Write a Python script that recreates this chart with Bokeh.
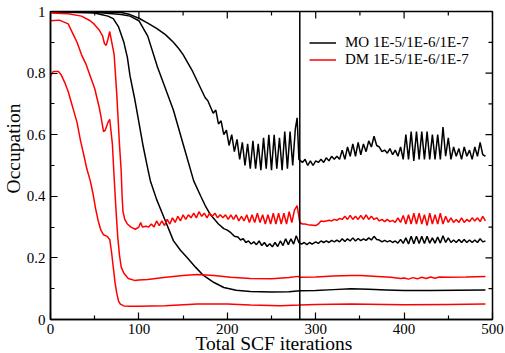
import math
from bokeh.plotting import figure
from bokeh.models import FixedTicker, Span, Legend, LegendItem, Range1d, Title
from bokeh.embed import file_html
from bokeh.resources import INLINE

# ---------------- data ----------------
x_start, x_end = 0, 500
y_start, y_end = 0, 1.0
x_ticks = [0, 100, 200, 300, 400, 500]
x_minor_ticks = [50, 150, 250, 350, 450]
y_ticks = [0, 0.2, 0.4, 0.6, 0.8, 1.0]
y_tick_labels = ["0", "0.2", "0.4", "0.6", "0.8", "1"]
y_minor_ticks = [0.1, 0.3, 0.5, 0.7, 0.9]
restart_iteration = 282

x_title = "Total SCF iterations"
y_title = "Occupation"
series_labels = ["MO 1E-5/1E-6/1E-7", "DM 1E-5/1E-6/1E-7"]

# MO, tightest threshold (top black curve, ends ~0.53)
mo_top = [(0, 1.0), (40, 1.0), (80, 0.997), (90, 0.99), (100, 0.978), (110, 0.962), (120, 0.945),
          (130, 0.925), (139, 0.90), (145, 0.88), (150, 0.86), (155, 0.835), (160, 0.81), (165, 0.78),
          (170, 0.75), (175, 0.72), (178, 0.71), (181, 0.69), (184, 0.67), (187, 0.68), (190, 0.635),
          (193, 0.645), (196, 0.60), (199, 0.615), (202, 0.565), (205, 0.60), (208, 0.545), (211, 0.585),
          (214, 0.52), (217, 0.575), (220, 0.50), (223, 0.57), (226, 0.49), (229, 0.58), (232, 0.49),
          (235, 0.57), (238, 0.485), (241, 0.59), (244, 0.49), (247, 0.60), (250, 0.485), (253, 0.60),
          (256, 0.49), (259, 0.59), (262, 0.485), (265, 0.61), (268, 0.49), (271, 0.61), (274, 0.50),
          (277, 0.62), (279, 0.655), (281, 0.52), (283, 0.515), (285, 0.51), (288, 0.52), (291, 0.50),
          (294, 0.515), (297, 0.50), (300, 0.515), (303, 0.51), (306, 0.52), (309, 0.51), (312, 0.525),
          (315, 0.515), (318, 0.53), (321, 0.52), (324, 0.53), (327, 0.52), (330, 0.55), (333, 0.52),
          (336, 0.56), (339, 0.53), (342, 0.57), (345, 0.53), (348, 0.575), (351, 0.535), (354, 0.57),
          (357, 0.545), (360, 0.58), (363, 0.56), (366, 0.595), (369, 0.565), (372, 0.56), (375, 0.545),
          (378, 0.55), (381, 0.54), (384, 0.555), (387, 0.535), (390, 0.55), (393, 0.53), (396, 0.56),
          (399, 0.52), (402, 0.60), (405, 0.52), (408, 0.61), (411, 0.515), (414, 0.61), (417, 0.52),
          (420, 0.61), (423, 0.52), (426, 0.61), (429, 0.52), (432, 0.60), (435, 0.52), (438, 0.60),
          (441, 0.52), (444, 0.625), (447, 0.53), (450, 0.59), (453, 0.52), (456, 0.56), (459, 0.53),
          (462, 0.555), (465, 0.52), (468, 0.56), (471, 0.53), (474, 0.55), (477, 0.52), (480, 0.56),
          (483, 0.53), (486, 0.575), (489, 0.535), (492, 0.53)]

# MO, middle curve (ends ~0.25)
mo_mid = [(0, 1.0), (40, 0.998), (60, 0.995), (80, 0.99), (90, 0.985), (100, 0.97), (110, 0.92),
          (121, 0.82), (130, 0.75), (139, 0.68), (150, 0.57), (162, 0.45), (170, 0.40), (175, 0.37),
          (181, 0.34), (190, 0.31), (196, 0.295), (200, 0.29), (204, 0.282), (208, 0.27), (212, 0.268),
          (215, 0.258), (218, 0.262), (221, 0.25), (224, 0.255), (227, 0.245), (230, 0.252), (233, 0.243),
          (236, 0.255), (239, 0.24), (242, 0.25), (245, 0.237), (248, 0.246), (251, 0.236), (254, 0.25),
          (257, 0.237), (260, 0.255), (263, 0.24), (266, 0.262), (269, 0.243), (272, 0.262), (275, 0.245),
          (278, 0.272), (281, 0.25), (284, 0.245), (287, 0.25), (290, 0.243), (293, 0.25), (296, 0.245),
          (300, 0.252), (303, 0.247), (306, 0.255), (309, 0.25), (312, 0.255), (315, 0.25), (318, 0.257),
          (321, 0.252), (324, 0.258), (327, 0.252), (330, 0.262), (333, 0.253), (336, 0.262), (339, 0.255),
          (342, 0.265), (345, 0.255), (348, 0.263), (351, 0.256), (354, 0.262), (357, 0.257), (360, 0.265),
          (363, 0.258), (366, 0.27), (369, 0.26), (372, 0.258), (375, 0.252), (378, 0.257), (381, 0.252),
          (384, 0.256), (387, 0.25), (390, 0.255), (393, 0.248), (396, 0.26), (399, 0.247), (402, 0.265),
          (405, 0.245), (408, 0.27), (411, 0.246), (414, 0.27), (417, 0.247), (420, 0.27), (423, 0.247),
          (426, 0.27), (429, 0.248), (432, 0.265), (435, 0.248), (438, 0.268), (441, 0.248), (444, 0.272),
          (447, 0.25), (450, 0.265), (453, 0.25), (456, 0.258), (459, 0.25), (462, 0.26), (465, 0.25),
          (468, 0.26), (471, 0.25), (474, 0.258), (477, 0.25), (480, 0.258), (483, 0.25), (486, 0.262),
          (489, 0.252), (492, 0.255)]

# MO, loosest curve (ends ~0.095)
mo_low = [(0, 0.998), (30, 0.997), (50, 0.995), (57, 0.99), (65, 0.985), (71, 0.977), (77, 0.95),
          (83, 0.90), (87, 0.85), (90, 0.79), (95, 0.72), (100, 0.64), (105, 0.56), (110, 0.49),
          (113, 0.45), (120, 0.39), (130, 0.32), (139, 0.256), (147, 0.225), (155, 0.20), (164, 0.17),
          (173, 0.143), (185, 0.12), (196, 0.104), (210, 0.095), (226, 0.091), (250, 0.089), (270, 0.09),
          (282, 0.093), (300, 0.094), (320, 0.097), (340, 0.10), (360, 0.098), (380, 0.096), (400, 0.094),
          (430, 0.094), (460, 0.095), (492, 0.096)]

# DM, top curve (ends ~0.32)
dm_top = [(0, 0.995), (20, 0.993), (35, 0.985), (45, 0.97), (49, 0.96), (55, 0.94), (59, 0.92),
          (61, 0.896), (63, 0.89), (65, 0.91), (67, 0.935), (70, 0.89), (72, 0.86), (75, 0.73), (78, 0.57),
          (80, 0.48), (81, 0.40), (82, 0.35), (84, 0.325), (87, 0.31), (91, 0.30), (96, 0.293), (100, 0.30),
          (102, 0.315), (104, 0.30), (108, 0.303), (111, 0.30), (114, 0.31), (117, 0.30), (120, 0.32),
          (123, 0.305), (126, 0.32), (129, 0.305), (132, 0.325), (135, 0.31), (138, 0.33), (141, 0.315),
          (144, 0.335), (147, 0.32), (150, 0.34), (153, 0.325), (156, 0.34), (159, 0.33), (162, 0.345),
          (165, 0.33), (168, 0.35), (171, 0.335), (174, 0.345), (177, 0.33), (180, 0.345), (183, 0.335),
          (186, 0.345), (189, 0.33), (192, 0.34), (195, 0.33), (198, 0.34), (201, 0.325), (204, 0.34),
          (207, 0.325), (210, 0.34), (213, 0.32), (216, 0.335), (219, 0.32), (222, 0.34), (225, 0.315),
          (228, 0.34), (231, 0.315), (234, 0.345), (237, 0.315), (240, 0.34), (243, 0.31), (246, 0.34),
          (249, 0.31), (252, 0.345), (255, 0.31), (258, 0.345), (261, 0.31), (264, 0.345), (267, 0.31),
          (270, 0.35), (273, 0.315), (276, 0.355), (279, 0.37), (282, 0.315), (285, 0.31), (288, 0.31),
          (291, 0.308), (294, 0.307), (297, 0.306), (300, 0.305), (303, 0.31), (306, 0.32), (309, 0.318),
          (312, 0.32), (315, 0.322), (318, 0.32), (321, 0.325), (324, 0.322), (327, 0.328), (330, 0.325),
          (333, 0.335), (336, 0.325), (339, 0.338), (342, 0.325), (345, 0.335), (348, 0.325), (351, 0.338),
          (354, 0.325), (357, 0.34), (360, 0.325), (363, 0.335), (366, 0.325), (369, 0.33), (372, 0.32),
          (375, 0.325), (378, 0.318), (381, 0.325), (384, 0.318), (387, 0.322), (390, 0.315), (393, 0.33),
          (396, 0.315), (399, 0.338), (402, 0.31), (405, 0.34), (408, 0.31), (411, 0.345), (414, 0.31),
          (417, 0.345), (420, 0.31), (423, 0.34), (426, 0.305), (429, 0.345), (432, 0.31), (435, 0.34),
          (438, 0.31), (441, 0.345), (444, 0.31), (447, 0.335), (450, 0.315), (453, 0.33), (456, 0.315),
          (459, 0.325), (462, 0.315), (465, 0.33), (468, 0.315), (471, 0.325), (474, 0.318), (477, 0.33),
          (480, 0.32), (483, 0.33), (486, 0.318), (489, 0.335), (492, 0.32)]

# DM, middle curve (ends ~0.14)
dm_mid = [(0, 0.97), (10, 0.972), (20, 0.96), (25, 0.93), (30, 0.90), (35, 0.86), (40, 0.83),
          (45, 0.79), (50, 0.75), (55, 0.69), (57, 0.66), (60, 0.61), (62, 0.615), (65, 0.64), (67, 0.65),
          (70, 0.57), (72, 0.46), (74, 0.36), (76, 0.27), (78, 0.21), (80, 0.17), (83, 0.15), (88, 0.133),
          (95, 0.127), (100, 0.128), (110, 0.13), (128, 0.136), (150, 0.143), (166, 0.146), (185, 0.143),
          (204, 0.137), (226, 0.133), (250, 0.132), (270, 0.136), (280, 0.14), (282, 0.137), (300, 0.138),
          (320, 0.141), (340, 0.143), (351, 0.143), (370, 0.14), (385, 0.137), (396, 0.133), (400, 0.135),
          (405, 0.131), (410, 0.136), (415, 0.132), (420, 0.137), (425, 0.133), (430, 0.138), (435, 0.134),
          (440, 0.138), (450, 0.137), (470, 0.138), (492, 0.14)]

# DM, lowest curve (ends ~0.045)
dm_low = [(0, 0.79), (3, 0.805), (9, 0.805), (12, 0.795), (16, 0.77), (20, 0.74), (23, 0.71),
          (27, 0.67), (30, 0.64), (34, 0.58), (38, 0.53), (41, 0.49), (45, 0.45), (48, 0.41), (51, 0.36),
          (54, 0.32), (57, 0.29), (60, 0.275), (64, 0.27), (67, 0.26), (69, 0.22), (71, 0.17), (73, 0.12),
          (75, 0.085), (77, 0.06), (79, 0.05), (83, 0.044), (90, 0.043), (100, 0.043), (130, 0.045),
          (166, 0.05), (200, 0.05), (226, 0.047), (260, 0.045), (282, 0.047), (300, 0.049), (340, 0.05),
          (400, 0.048), (450, 0.049), (492, 0.05)]

mo_series = [mo_top, mo_mid, mo_low]
dm_series = [dm_top, dm_mid, dm_low]

# ---------------- figure ----------------
FONT = "Liberation Serif"
MAJOR_LEN, MINOR_LEN, TICK_W = 7, 4, 1.2

p = figure(width=505, height=353, x_range=Range1d(x_start, x_end), y_range=Range1d(y_start, y_end),
           output_backend="svg", toolbar_location=None,
           min_border_left=50, min_border_top=11, min_border_right=13, min_border_bottom=34)
p.grid.visible = False
p.outline_line_color = "black"
p.outline_line_width = 1.5
p.background_fill_color = "white"


def style_axis(ax, ticker):
    ax.ticker = ticker
    ax.axis_line_color = "black"
    ax.axis_line_width = 1.5
    ax.major_tick_line_color = "black"
    ax.minor_tick_line_color = "black"
    ax.major_tick_line_width = TICK_W
    ax.minor_tick_line_width = TICK_W
    ax.major_tick_in = MAJOR_LEN
    ax.major_tick_out = 0
    ax.minor_tick_in = MINOR_LEN
    ax.minor_tick_out = 0
    ax.major_label_text_font = FONT
    ax.major_label_text_color = "black"
    ax.major_label_text_font_size = "15px"


xb = p.xaxis[0]
yl = p.yaxis[0]
style_axis(xb, FixedTicker(ticks=x_ticks, minor_ticks=x_minor_ticks))
style_axis(yl, FixedTicker(ticks=y_ticks, minor_ticks=y_minor_ticks))
xb.major_label_standoff = 4
yl.major_label_standoff = 5
yl.major_label_overrides = {t: s for t, s in zip(y_ticks, y_tick_labels)}
yl.major_label_orientation = "horizontal"

# axis titles as side-panel titles (the x title uses a negative standoff so it fits the border)
p.add_layout(Title(text=x_title, align="left", offset=145, standoff=-12, vertical_align="bottom",
                   text_font=FONT, text_font_size="19.5px", text_font_style="normal",
                   text_color="black"), "below")
p.add_layout(Title(text=y_title, align="right", offset=92, standoff=0,
                   text_font=FONT, text_font_size="19.5px", text_font_style="normal",
                   text_color="black"), "left")

# mirrored inward ticks on the top and right frame edges (no labels)
p.ray(x=x_ticks, y=[y_end] * len(x_ticks), length=MAJOR_LEN, length_units="screen",
      angle=-math.pi / 2, line_color="black", line_width=TICK_W)
p.ray(x=x_minor_ticks, y=[y_end] * len(x_minor_ticks), length=MINOR_LEN, length_units="screen",
      angle=-math.pi / 2, line_color="black", line_width=TICK_W)
p.ray(x=[x_end] * len(y_ticks), y=y_ticks, length=MAJOR_LEN, length_units="screen",
      angle=math.pi, line_color="black", line_width=TICK_W)
p.ray(x=[x_end] * len(y_minor_ticks), y=y_minor_ticks, length=MINOR_LEN, length_units="screen",
      angle=math.pi, line_color="black", line_width=TICK_W)

mo_renderers = []
for s in mo_series:
    mo_renderers.append(p.line([a for a, b in s], [b for a, b in s], line_color="black", line_width=1.5))
dm_renderers = []
for s in dm_series:
    dm_renderers.append(p.line([a for a, b in s], [b for a, b in s], line_color="#ff0000", line_width=1.5))

p.add_layout(Span(location=restart_iteration, dimension="height",
                  line_color="black", line_width=1.5))

legend = Legend(items=[LegendItem(label=series_labels[0], renderers=[mo_renderers[0]]),
                       LegendItem(label=series_labels[1], renderers=[dm_renderers[0]])],
                location=(259, 251), orientation="vertical",
                glyph_width=27, glyph_height=15, label_height=15, label_standoff=9,
                spacing=-3, padding=0, margin=0,
                label_text_font=FONT, label_text_font_size="15px", label_text_color="black",
                background_fill_alpha=0, border_line_color=None)
p.add_layout(legend)

open("out.html", "w").write(file_html(p, INLINE))
